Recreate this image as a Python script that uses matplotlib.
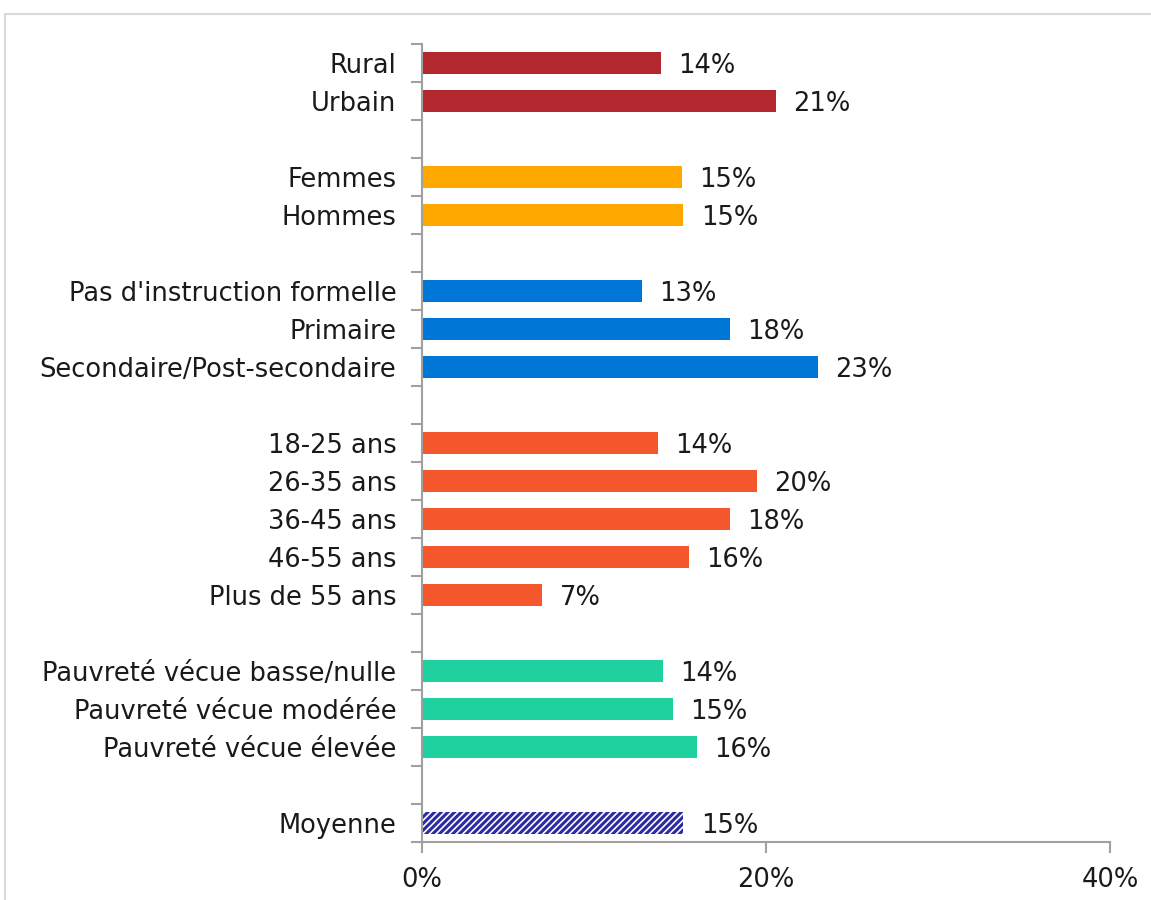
import matplotlib
matplotlib.use("Agg")
import matplotlib.pyplot as plt
from matplotlib.lines import Line2D

plt.rcParams['font.family'] = ['DejaVu Sans']
plt.rcParams['hatch.linewidth'] = 2.2

# Data (groups, top to bottom)
groups = [
    ["Rural", "Urbain"],
    ["Femmes", "Hommes"],
    ["Pas d'instruction formelle", "Primaire", "Secondaire/Post-secondaire"],
    ["18-25 ans", "26-35 ans", "36-45 ans", "46-55 ans", "Plus de 55 ans"],
    ["Pauvreté vécue basse/nulle", "Pauvreté vécue modérée", "Pauvreté vécue élevée"],
    ["Moyenne"],
]
values = [
    [13.9, 20.6],
    [15.1, 15.2],
    [12.8, 17.9, 23.0],
    [13.7, 19.5, 17.9, 15.5, 7.0],
    [14.0, 14.6, 16.0],
    [15.2],
]
colors = ["#B3282F", "#FFA800", "#0076D6", "#F4572B", "#20D1A0", "#2B2BA3"]
xticks = [0, 20, 40]
xticklabels = ["0%", "20%", "40%"]

FS = 18.5
fig = plt.figure(figsize=(11.51, 9), dpi=100)
ax = fig.add_axes([422/1151, 1-842/900, (1110-422)/1151, (842-44)/900])

labels_pos = []
labels_txt = []
slot = 0
for gi, (cats, vals) in enumerate(zip(groups, values)):
    for c, v in zip(cats, vals):
        if gi == len(groups) - 1:
            ax.barh(slot, v, height=0.58, color="white", edgecolor=colors[gi],
                    hatch="/////", linewidth=0)
        else:
            ax.barh(slot, v, height=0.58, color=colors[gi], linewidth=0)
        ax.text(v + 1.0, slot + 0.08, f"{round(v):.0f}%", va="center", ha="left",
                fontsize=FS, color="#1a1a1a")
        labels_pos.append(slot)
        labels_txt.append(c)
        slot += 1
    slot += 1
nslots = slot - 1

ax.set_ylim(nslots - 0.5, -0.5)
ax.set_xlim(0, 40)
ax.set_yticks([i + 0.5 for i in range(-1, nslots)], minor=False)
ax.set_yticklabels([])
ax.set_yticks(labels_pos, minor=True)
ax.set_yticklabels(labels_txt, minor=True, fontsize=FS, color="#1a1a1a")
ax.tick_params(axis="y", which="minor", length=0, pad=18.5)
ax.tick_params(axis="y", which="major", length=8, width=1.5, color="#a0a0a0", direction="out")
ax.set_xticks(xticks)
ax.set_xticklabels(xticklabels, fontsize=FS, color="#1a1a1a")
ax.tick_params(axis="x", length=8, width=1.5, color="#a0a0a0", direction="out", pad=10)

for s in ["top", "right"]:
    ax.spines[s].set_visible(False)
for s in ["left", "bottom"]:
    ax.spines[s].set_color("#a0a0a0")
    ax.spines[s].set_linewidth(1.5)

# outer light border
fig.add_artist(Line2D([5/1151, 1.0], [1-14/900, 1-14/900], color="#d9d9d9", lw=1.5, transform=fig.transFigure))
fig.add_artist(Line2D([5/1151, 5/1151], [0, 1-14/900], color="#d9d9d9", lw=1.5, transform=fig.transFigure))

fig.savefig("out.png", dpi=100)
